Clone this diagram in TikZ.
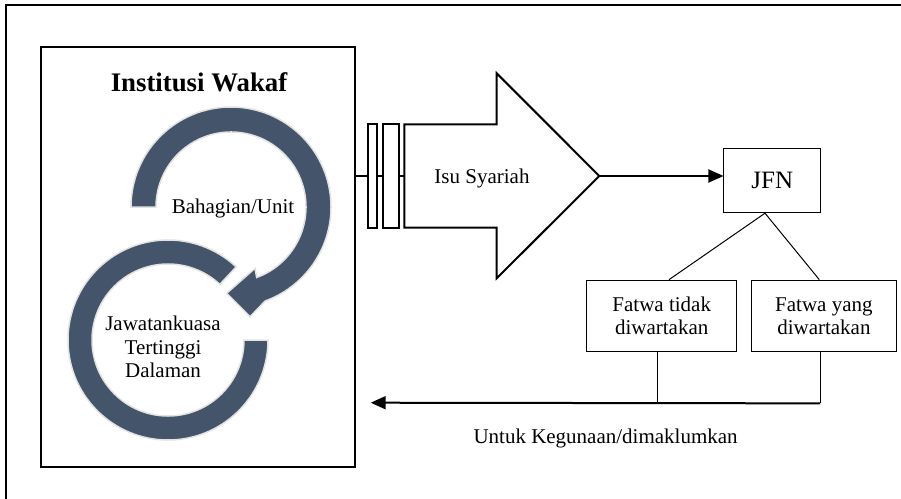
\documentclass[tikz,border=0pt]{standalone}
\usepackage{fontspec}
\setmainfont{Liberation Serif}
\usetikzlibrary{arrows.meta,calc}
\definecolor{slate}{HTML}{44546A}
\definecolor{rimgray}{HTML}{E2E2E2}
\begin{document}
\begin{tikzpicture}[x=1pt,y=1pt,
  frame/.style={line width=2.5pt},
  thickline/.style={line width=2pt},
  thinline/.style={line width=1pt},
  boxnode/.style={draw, line width=1pt, align=center, inner sep=0pt,
    font=\fontsize{21}{22.5}\selectfont},
  band/.style={fill=slate, draw=rimgray, line width=1.5pt},
  lbl/.style={font=\fontsize{21}{23.3}\selectfont, align=center, inner sep=0pt},
  arrowtip/.style={-{Triangle[length=15pt,width=13pt]}}
]
\useasboundingbox (0,0) rectangle (901,-498);
% outer frame (only top and left edges are visible)
\draw[frame] (6,-520) -- (6,-5) -- (920,-5);

% inner box
\node[draw, line width=2.5pt, minimum width=314pt, minimum height=420pt, inner sep=0pt]
  (inst) at (198,-257) {};
\node[font=\bfseries\fontsize{26.8}{30}\selectfont, inner sep=0pt, anchor=base]
  (title) at (199,-91.7) {Institusi Wakaf};

% bottom circular band (no arrow head)
\draw[band] (168,-340) ++(47:100) arc[start angle=47, end angle=360, radius=100]
  -- ++(-24,0) arc[start angle=360, end angle=47, radius=76] -- cycle;
% top circular arrow
\draw[band] (131,-207) arc[start angle=180, end angle=-70, radius=100]
  -- (250,-316.7) -- (226.7,-293.3) -- (255,-268.3)
  -- ($(231,-207)+(-70:75)$) arc[start angle=-70, end angle=180, radius=75] -- cycle;

\node[lbl, anchor=base] (unit) at (233,-213) {Bahagian/Unit};
\node[lbl] (jtd) at (163,-347) {Jawatankuasa\\Tertinggi\\Dalaman};

% Isu Syariah block arrow
\coordinate (tail) at (404.3,-176);
\coordinate (tip) at (599.3,-176);
\draw[thickline] (inst.east |- tail) -- (tail);
\draw[thickline, fill=white] (368.3,-124.3) rectangle (376.7,-227.7);
\draw[thickline, fill=white] (383.3,-124.3) rectangle (399,-227.7);
\draw[thickline, line join=miter] (404.3,-124.3) -- (496.7,-124.3) -- (496.7,-73.3)
  -- (tip) -- (496.7,-278.3) -- (496.7,-227.7) -- (404.3,-227.7) -- cycle;
\node[lbl, anchor=base] (isu) at (482,-183) {Isu Syariah};

% JFN and fatwa boxes
\node[boxnode, minimum width=96.7pt, minimum height=64.4pt,
  font=\fontsize{25}{27}\selectfont] (jfn) at (772.3,-180.5) {JFN};
\draw[thickline, arrowtip] (tip) -- (tip -| jfn.west);

\node[boxnode, minimum width=150pt, minimum height=71.7pt] (ft) at (661.7,-316)
  {Fatwa tidak\\diwartakan};
\node[boxnode, minimum width=144.3pt, minimum height=71.7pt] (fy) at (823.9,-316)
  {Fatwa yang\\diwartakan};

\coordinate (jb) at ($(jfn.south)+(-7.3,0)$);
\draw[thinline] (jb) -- ($(ft.north)+(7.3,0)$);
\draw[thinline] (jb) -- ($(fy.north)+(-4.6,0)$);

% return arrow
\coordinate (ftd) at ($(ft.south)+(-4,-51)$);
\coordinate (fyd) at ($(fy.south)+(-3.9,-51)$);
\coordinate (back) at (370.7,-402.7);
\draw[thinline] ($(ft.south)+(-4,0)$) -- (ftd);
\draw[thinline] ($(fy.south)+(-3.9,0)$) -- (fyd);
\draw[thickline, arrowtip] (fyd) -- (back);
\node[lbl, anchor=base west] (use) at (473.3,-443.3) {Untuk Kegunaan/dimaklumkan};
\end{tikzpicture}
\end{document}
